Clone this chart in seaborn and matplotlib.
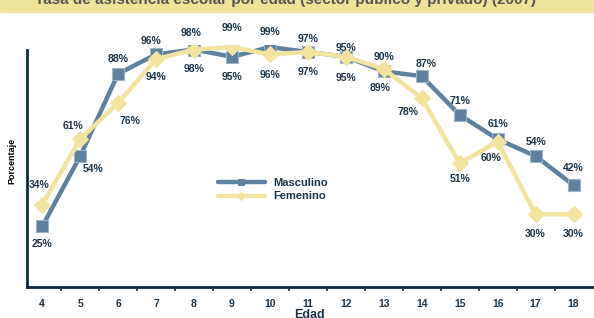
import pandas as pd
import matplotlib.pyplot as plt
import seaborn as sns

# Data
edades = [4, 5, 6, 7, 8, 9, 10, 11, 12, 13, 14, 15, 16, 17, 18]
masculino = [25, 54, 88, 96, 98, 95, 99, 97, 95, 89, 87, 71, 61, 54, 42]
femenino = [34, 61, 76, 94, 98, 99, 96, 97, 95, 90, 78, 51, 60, 30, 30]

# label offsets in pixels (dx, dy) for each point
off_masc = [(0, -18), (13, -13), (0, 15), (-5, 13), (-3, 17), (0, -20), (0, 15), (0, 13),
            (0, 9), (-4, -17), (4, 12), (0, 14), (0, 15), (0, 14), (0, 17)]
off_fem = [(-3, 20), (-7, 13), (12, -18), (0, -18), (0, -19), (0, 19), (0, -21), (0, -20),
           (0, -21), (0, 12), (-14, -14), (0, -16), (-7, -16), (0, -20), (0, -20)]

df = pd.DataFrame({
    "Edad": edades * 2,
    "valor": masculino + femenino,
    "sexo": ["Masculino"] * len(edades) + ["Femenino"] * len(edades),
})

sns.set_theme(style="white")
plt.rcParams["font.family"] = ["Liberation Sans", "DejaVu Sans"]

azul = "#5F809F"
amarillo = "#F1E49E"
texto = "#1E3548"

fig = plt.figure(figsize=(5.94, 3.18), dpi=100)
ax = fig.add_axes([0.0455, 0.0975, 0.952, 0.762])

sns.lineplot(data=df, x="Edad", y="valor", hue="sexo", style="sexo",
             palette={"Masculino": azul, "Femenino": amarillo},
             markers={"Masculino": "s", "Femenino": "D"}, dashes=False,
             linewidth=3.2, markersize=8.5, markeredgecolor=None, ax=ax)
for ln, mec in zip(ax.get_lines()[:2], ["#9FB3C6", amarillo]):
    ln.set_markeredgecolor(mec)
    ln.set_markeredgewidth(0.8)

for x, y, (dx, dy) in zip(edades, masculino, off_masc):
    ax.annotate(f"{y}%", (x, y), xytext=(dx, dy), textcoords="offset pixels",
                ha="center", va="center", fontsize=7.5, fontweight="bold", color=texto)
for x, y, (dx, dy) in zip(edades, femenino, off_fem):
    ax.annotate(f"{y}%", (x, y), xytext=(dx, dy), textcoords="offset pixels",
                ha="center", va="center", fontsize=7.5, fontweight="bold", color=texto)

ax.set_xlim(3.6, 18.5)
ax.set_ylim(0, 100)
ax.set_xticks(edades)
ax.set_xticklabels([str(e) for e in edades], fontsize=7.5, fontweight="bold", color=texto)
ax.set_xticks([e + 0.5 for e in edades[:-1]], minor=True)
ax.tick_params(axis="x", which="major", length=0, pad=9)
ax.tick_params(axis="x", which="minor", length=3, width=1.2, color=texto, bottom=True, direction="out")
ax.set_yticks([])
ax.set_xlabel("Edad", fontsize=9, fontweight="bold", color=texto, labelpad=0)
ax.set_ylabel("Porcentaje", fontsize=6.5, fontweight="bold", color="black", labelpad=4)
ax.yaxis.set_label_coords(-0.018, 0.52)

for s in ["top", "right"]:
    ax.spines[s].set_visible(False)
for s in ["left", "bottom"]:
    ax.spines[s].set_color("#0C2A42")
    ax.spines[s].set_linewidth(2)
ax.spines["left"].set_bounds(0, 98)

leg = ax.legend(loc="upper left", bbox_to_anchor=(0.33, 0.47), frameon=False,
                handlelength=4.2, fontsize=8, labelspacing=0.35, borderaxespad=0)
for t in leg.get_texts():
    t.set_fontweight("bold")
    t.set_color(texto)
for h in leg.legend_handles:
    h.set_markersize(4.5)

# title band (cut off at the top)
fig.patches.append(plt.Rectangle((0, 0.962), 1, 0.04, transform=fig.transFigure,
                                 color="#EFE39A", zorder=0))
fig.text(0.48, 0.988, "Tasa de asistencia escolar por edad (sector público y privado) (2007)",
         ha="center", va="baseline", fontsize=11, fontweight="bold", color="#555555")

fig.savefig("out.png", dpi=100)
